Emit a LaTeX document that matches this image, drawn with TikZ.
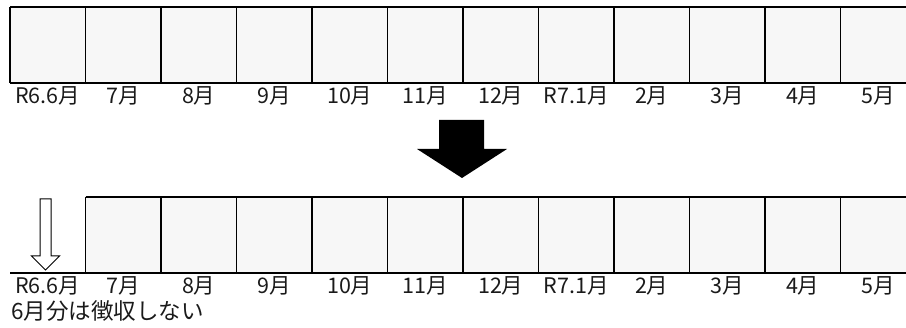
\documentclass[tikz,border=0pt]{standalone}
\usepackage{fontspec}
\newfontfamily\jpfont{Noto Sans CJK JP}
\definecolor{cellgray}{HTML}{F7F7F7}
\definecolor{inkgray}{HTML}{1A1A1A}
\tikzset{
  monthlabel/.style={anchor=base, inner sep=0pt, text=inkgray,
    font=\jpfont\fontsize{21.5}{24}\selectfont},
  notelabel/.style={anchor=base west, inner sep=0pt, text=inkgray,
    font=\jpfont\fontsize{22.5}{26}\selectfont},
}
\newcommand{\monthrow}[3]{
% one row of 12 month cells, each cell 75.5 wide and 76 high,
% #1 = y of the top edge, #2 = index of the first drawn cell,
% #3 = prefix for the names of the label nodes
% the last cell runs past the right edge of the page, as in the sheet
\begin{scope}[shift={(0,#1)}]
	\def\leftx{10}
	\def\cellwidth{75.5}
	\def\height{76}
	\def\rightx{916}
	\fill[cellgray] (\leftx+\cellwidth*#2, 0) rectangle (\rightx, \height);
	\foreach \i in {#2,...,11}
		\draw[line width=1.3pt] (\leftx+\cellwidth*\i, 0) -- (\leftx+\cellwidth*\i, \height);
	\draw[line width=2pt] (\leftx+\cellwidth*#2, 0) -- (\rightx, 0);
	\draw[line width=2pt] (\leftx, \height) -- (\rightx, \height);
	\foreach \lbl [count=\i from 0] in {R6.6月,7月,8月,9月,10月,11月,12月,R7.1月,2月,3月,4月,5月}
		\node[monthlabel] (#3\i) at (\leftx+\cellwidth*\i+\cellwidth/2, \height+21) {\lbl};
\end{scope}
}

\begin{document}
\begin{tikzpicture}[x=1pt, y=-1pt]
\useasboundingbox (0,0) rectangle (906,328);
\clip (0,0) rectangle (906,328);

% before: every month from R6.6
\monthrow{7}{0}{before}

% black arrow between the two rows
\fill[black] (439,120) -- (484,120) -- (484,149) -- (507,149) -- (462,178)
	-- (417,149) -- (439,149) -- cycle;

% after: the June cell is left out
\monthrow{197}{1}{after}

% hollow arrow over R6.6
\draw[line width=1pt, fill=white] (40,199) -- (51,199) -- (51,256) -- (59.5,256)
	-- (45.5,270) -- (31.5,256) -- (40,256) -- cycle;

\node[notelabel] (note) at (11,320) {6月分は徴収しない};

\end{tikzpicture}
\end{document}
